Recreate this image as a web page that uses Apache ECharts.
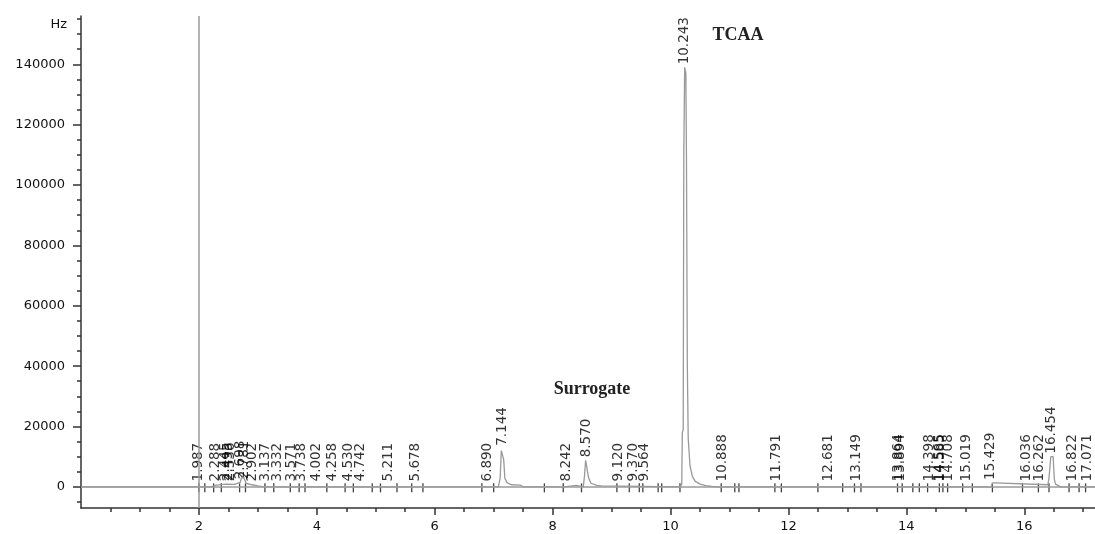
<!DOCTYPE html>
<html><head><meta charset="utf-8">
<script src="https://cdn.jsdelivr.net/npm/echarts@6/dist/echarts.min.js"></script>
<style>html,body{margin:0;padding:0;background:#fff}#c{width:1095px;height:534px}</style>
</head><body><div id="c"></div><script>
// Retention times of labelled peaks (min) and apex heights (Hz)
const peakTimes = [1.987,2.288,2.445,2.495,2.536,2.698,2.781,2.902,3.137,3.332,3.571,3.738,4.002,4.258,4.530,4.742,5.211,5.678,6.890,7.144,8.242,8.570,9.120,9.370,9.564,10.243,10.888,11.791,12.681,13.149,13.864,13.894,14.398,14.565,14.585,14.708,15.019,15.429,16.036,16.262,16.454,16.822,17.071];
const peakHeights = [800,800,900,900,900,1500,1500,800,800,800,800,800,800,800,800,800,800,800,800,12600,800,8800,800,800,800,139000,800,800,800,800,800,800,800,800,800,800,800,1300,800,800,10000,800,800];
// Integration boundary marks on the baseline (min)
const markTimes = [2.0,2.10,2.25,2.38,2.69,2.79,3.12,3.27,3.55,3.70,3.80,4.17,4.48,4.62,4.94,5.08,5.36,5.61,5.80,6.80,7.00,7.86,8.18,8.49,9.09,9.30,9.47,9.53,9.79,9.85,10.16,10.86,11.09,11.16,11.77,11.88,12.50,12.92,13.12,13.23,13.85,13.93,14.11,14.22,14.36,14.56,14.62,14.70,14.955,15.12,15.46,15.97,16.24,16.42,16.76,16.93,17.04];
// Detector signal (hand-read)
const signalTimes  = [0,2.0,2.2,2.3,2.45,2.6,2.7,2.72,2.76,2.8,2.9,3.0,3.1,7.08,7.11,7.13,7.15,7.17,7.19,7.23,7.3,7.45,7.5,8.2,8.22,8.4,8.42,8.52,8.54,8.56,8.58,8.61,8.65,8.75,8.83,8.86,10.16,10.19,10.20,10.215,10.225,10.24,10.26,10.27,10.285,10.30,10.33,10.37,10.42,10.5,10.6,10.7,10.78,15.44,15.46,15.5,15.52,16.40,16.42,16.45,16.49,16.51,16.53,16.58,16.62,17.2];
const signalValues = [0,0,0,600,900,800,1500,2800,3200,1200,700,300,0,0,3000,12000,12600,9000,2800,1300,700,600,0,0,500,500,0,0,3500,8800,8300,3000,1200,500,300,0,0,800,18000,19000,110000,139000,137000,110000,40000,16000,7000,3500,1800,900,400,150,0,0,1300,1300,700,700,3000,10000,10000,2500,900,400,0,0];
const xTickLabels = [2,4,6,8,10,12,14,16];
const xMinorTicks = [0.5,1,1.5,2.5,3,3.5,4.5,5,5.5,6.5,7,7.5,8.5,9,9.5,10.5,11,11.5,12.5,13,13.5,14.5,15,15.5,16.5,17];
const yTickLabels = [0,20000,40000,60000,80000,100000,120000,140000];
const yMinorTicks = [-5000,5000,10000,15000,25000,30000,35000,45000,50000,55000,65000,70000,75000,85000,90000,95000,105000,110000,115000,125000,130000,135000,145000,150000,155000];
const annotations = [{text:'TCAA', x:738, y:35},{text:'Surrogate', x:592, y:389}];

const FONT = 'DejaVu Sans';
const chart = echarts.init(document.getElementById('c'));
const xBase = {type:'value', min:0, max:17.2, position:'bottom', splitLine:{show:false}};
const yBase = {type:'value', min:-7000, max:156000, position:'left', splitLine:{show:false}};
chart.setOption({
  animation:false,
  backgroundColor:'#fff',
  grid:{left:81, right:0, top:16, bottom:26, outerBoundsMode:'none'},
  xAxis:[
    Object.assign({}, xBase, {
      axisLine:{show:true, onZero:false, lineStyle:{color:'#333', width:1.5}},
      axisTick:{show:true, customValues:xTickLabels, length:7, lineStyle:{color:'#333', width:1.5}},
      axisLabel:{show:true, customValues:xTickLabels, margin:12, fontFamily:FONT, fontSize:13, color:'#111', formatter:v=>String(v)}
    }),
    Object.assign({}, xBase, {
      axisLine:{show:false, onZero:false},
      axisTick:{show:true, customValues:xMinorTicks, length:4, lineStyle:{color:'#333', width:1.5}},
      axisLabel:{show:false}
    })
  ],
  yAxis:[
    Object.assign({}, yBase, {
      name:'Hz', nameLocation:'end', nameGap:-9,
      nameTextStyle:{fontFamily:FONT, fontSize:13, color:'#111', align:'right', verticalAlign:'middle', padding:[0,14,0,0]},
      axisLine:{show:true, onZero:false, lineStyle:{color:'#333', width:1.5}},
      axisTick:{show:true, customValues:yTickLabels, length:8, lineStyle:{color:'#333', width:1.5}},
      axisLabel:{show:true, customValues:yTickLabels, margin:16, fontFamily:FONT, fontSize:13, color:'#111', formatter:v=>String(v)}
    }),
    Object.assign({}, yBase, {
      axisLine:{show:false, onZero:false},
      axisTick:{show:true, customValues:yMinorTicks, length:4, lineStyle:{color:'#333', width:1.5}},
      axisLabel:{show:false}
    })
  ],
  series:[
    {
      type:'line', name:'signal', showSymbol:false, symbol:'none', silent:true,
      data: signalTimes.map((t,i)=>[t, signalValues[i]]),
      lineStyle:{color:'#999', width:1.3},
      markLine:{silent:true, symbol:'none', label:{show:false},
        lineStyle:{color:'#9a9a9a', width:1.5, type:'solid'},
        data:[{xAxis:2},{yAxis:0}]}
    },
    {
      type:'scatter', name:'marks', silent:true, symbol:'rect', symbolSize:[1.3,9], symbolOffset:[0,1],
      itemStyle:{color:'#111'},
      data: markTimes.map(t=>[t,0])
    },
    {
      type:'scatter', name:'labels', silent:true, symbolSize:0,
      data: peakTimes.map((t,i)=>[t, peakHeights[i]]),
      label:{show:true, position:'top', distance:3, rotate:90, align:'left', verticalAlign:'middle',
        fontFamily:FONT, fontSize:13.5, color:'#000',
        formatter:p=>p.data[0].toFixed(3)},
      labelLayout:{hideOverlap:false}
    }
  ],
  graphic: annotations.map(a=>({type:'text', x:a.x, y:a.y, silent:true,
    style:{text:a.text, font:'bold 18px "Liberation Serif", serif', fill:'#222', align:'center', verticalAlign:'middle'}}))
});
</script></body></html>
